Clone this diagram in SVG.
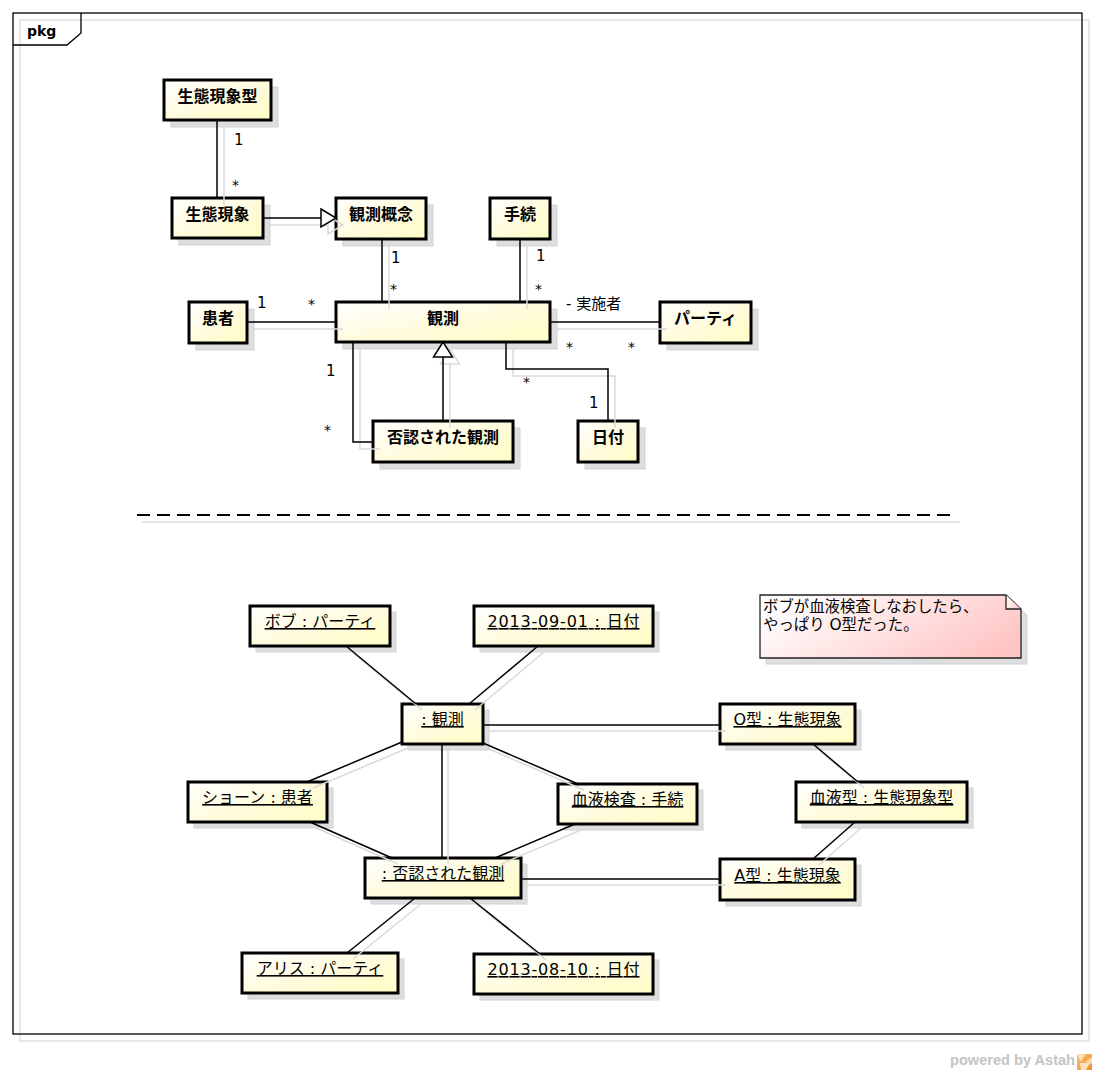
<svg xmlns="http://www.w3.org/2000/svg" width="1096" height="1074" viewBox="0 0 1096 1074">
<defs>
<linearGradient id="boxfill" x1="0" y1="0" x2="1" y2="1">
<stop offset="0" stop-color="#ffffff"/>
<stop offset="0.6" stop-color="#fffbd8"/>
<stop offset="1" stop-color="#ffffc4"/>
</linearGradient>
<linearGradient id="notefill" x1="0" y1="0.3" x2="1" y2="0.7">
<stop offset="0" stop-color="#ffffff"/>
<stop offset="1" stop-color="#ffc4c4"/>
</linearGradient>
<linearGradient id="logofill" x1="0" y1="0" x2="1" y2="1">
<stop offset="0" stop-color="#f7c27a"/>
<stop offset="1" stop-color="#f08a2c"/>
</linearGradient>
</defs>
<style>
.frame{fill:none;stroke:#000;stroke-width:1.3}
.frameshadow{fill:none;stroke:#dcdcdc;stroke-width:1.3}
.sh{fill:#dedede;stroke:#d2d2d2;stroke-width:1}
.box{fill:url(#boxfill);stroke:#000;stroke-width:3}
.note{fill:url(#notefill);stroke:#222;stroke-width:1.3}
.ln{fill:none;stroke:#000;stroke-width:1.5}
.lsh{fill:none;stroke:#dadada;stroke-width:1.5}
.tri{fill:#fff;stroke:#000;stroke-width:1.5}
.trish{fill:none;stroke:#dadada;stroke-width:1.5}
.cls{font-family:"DejaVu Sans","Noto Sans CJK JP",sans-serif;font-size:16px;font-weight:bold;text-anchor:middle;fill:#000}
.obj{font-family:"DejaVu Sans","Noto Sans CJK JP",sans-serif;font-size:16px;text-anchor:middle;fill:#000;text-decoration:underline}
.lbl{font-family:"DejaVu Sans","Noto Sans CJK JP",sans-serif;font-size:15px;fill:#000}
.star{font-family:"DejaVu Sans",sans-serif;font-size:14px;fill:#000}
.notetxt{font-family:"DejaVu Sans","Noto Sans CJK JP",sans-serif;font-size:15.4px;fill:#000}
</style>
<rect x="0" y="0" width="1096" height="1074" fill="#ffffff"/>

<g id="frame">
<rect class="frameshadow" x="20" y="20" width="1069" height="1021"/>
<rect class="frame" x="13" y="13" width="1069" height="1021"/>
<polyline class="frame" points="13,45 67,45 81,33 81,13"/>
<text x="27" y="36" font-family="DejaVu Sans, sans-serif" font-size="14" font-weight="bold">pkg</text>
</g>

<g id="separator">
<line x1="142" y1="522" x2="960" y2="522" stroke="#dcdcdc" stroke-width="1.5"/>
<line x1="137" y1="515" x2="950" y2="515" stroke="#000" stroke-width="2" stroke-dasharray="13,7"/>
</g>

<!-- class nodes -->
<g id="n-seitaigenshougata">
<rect class="sh" x="171" y="87" width="107" height="40"/>
<rect class="box" x="164" y="80" width="107" height="40"/>
<text class="cls" x="217.5" y="102">生態現象型</text>
</g>
<g id="n-seitaigenshou">
<rect class="sh" x="179" y="205" width="91" height="40"/>
<rect class="box" x="172" y="198" width="91" height="40"/>
<text class="cls" x="217.5" y="220">生態現象</text>
</g>
<g id="n-kansokugainen">
<rect class="sh" x="343" y="205" width="90" height="41"/>
<rect class="box" x="336" y="198" width="90" height="41"/>
<text class="cls" x="381" y="220">観測概念</text>
</g>
<g id="n-tetsuzuki">
<rect class="sh" x="497" y="205" width="60" height="41"/>
<rect class="box" x="490" y="198" width="60" height="41"/>
<text class="cls" x="520" y="220">手続</text>
</g>
<g id="n-kanja">
<rect class="sh" x="196" y="309" width="58" height="41"/>
<rect class="box" x="189" y="302" width="58" height="41"/>
<text class="cls" x="218" y="324">患者</text>
</g>
<g id="n-kansoku">
<rect class="sh" x="343" y="309" width="214" height="40"/>
<rect class="box" x="336" y="302" width="214" height="40"/>
<text class="cls" x="443" y="324">観測</text>
</g>
<g id="n-party">
<rect class="sh" x="667" y="309" width="91" height="41"/>
<rect class="box" x="660" y="302" width="91" height="41"/>
<text class="cls" x="705.5" y="324">パーティ</text>
</g>
<g id="n-hinin">
<rect class="sh" x="380" y="428" width="140" height="41"/>
<rect class="box" x="373" y="421" width="140" height="41"/>
<text class="cls" x="443" y="443">否認された観測</text>
</g>
<g id="n-hiduke">
<rect class="sh" x="585" y="428" width="60" height="41"/>
<rect class="box" x="578" y="421" width="60" height="41"/>
<text class="cls" x="608" y="443">日付</text>
</g>

<!-- object nodes -->
<g id="o-bob">
<rect class="sh" x="256" y="612" width="140" height="40"/>
<rect class="box" x="250" y="606" width="140" height="40"/>
<text class="obj" x="320" y="627">ボブ : パーティ</text>
</g>
<g id="o-date1">
<rect class="sh" x="480" y="612" width="179" height="40"/>
<rect class="box" x="474" y="606" width="179" height="40"/>
<text class="obj" x="563.5" y="627" textLength="152" lengthAdjust="spacing">2013-09-01 : 日付</text>
</g>
<g id="o-kansoku">
<rect class="sh" x="408" y="710" width="81" height="40"/>
<rect class="box" x="402" y="704" width="81" height="40"/>
<text class="obj" x="442.5" y="725">: 観測</text>
</g>
<g id="o-ogata">
<rect class="sh" x="726" y="710" width="135" height="40"/>
<rect class="box" x="720" y="704" width="135" height="40"/>
<text class="obj" x="787.5" y="725">O型 : 生態現象</text>
</g>
<g id="o-shaun">
<rect class="sh" x="194" y="788" width="139" height="40"/>
<rect class="box" x="188" y="782" width="139" height="40"/>
<text class="obj" x="257.5" y="803">ショーン : 患者</text>
</g>
<g id="o-ketsuekikensa">
<rect class="sh" x="564" y="790" width="139" height="40"/>
<rect class="box" x="558" y="784" width="139" height="40"/>
<text class="obj" x="627.5" y="805">血液検査 : 手続</text>
</g>
<g id="o-ketsuekigata">
<rect class="sh" x="802" y="788" width="171" height="40"/>
<rect class="box" x="796" y="782" width="171" height="40"/>
<text class="obj" x="881.5" y="803">血液型 : 生態現象型</text>
</g>
<g id="o-hinin">
<rect class="sh" x="371" y="864" width="156" height="40"/>
<rect class="box" x="365" y="858" width="156" height="40"/>
<text class="obj" x="443" y="879">: 否認された観測</text>
</g>
<g id="o-agata">
<rect class="sh" x="726" y="865" width="135" height="41"/>
<rect class="box" x="720" y="859" width="135" height="41"/>
<text class="obj" x="787.5" y="881">A型 : 生態現象</text>
</g>
<g id="o-alice">
<rect class="sh" x="248" y="959" width="156" height="40"/>
<rect class="box" x="242" y="953" width="156" height="40"/>
<text class="obj" x="320" y="974">アリス : パーティ</text>
</g>
<g id="o-date2">
<rect class="sh" x="480" y="960" width="179" height="40"/>
<rect class="box" x="474" y="954" width="179" height="40"/>
<text class="obj" x="563.5" y="975" textLength="152" lengthAdjust="spacing">2013-08-10 : 日付</text>
</g>

<!-- note -->
<g id="note">
<polygon class="sh" points="766,601 1012,601 1027,615 1027,664 766,664"/>
<polygon class="note" points="760,595 1006,595 1021,609 1021,658 760,658"/>
<polyline class="note" points="1006,595 1006,609 1021,609" fill="none"/>
<text class="notetxt" x="763" y="612">ボブが血液検査しなおしたら、</text>
<text class="notetxt" x="763" y="630">やっぱり O型だった。</text>
</g>

<!-- connectors -->
<g id="connectors">
<g id="conn-shadows">
<g transform="translate(7,7)">
<line class="lsh" x1="217" y1="120" x2="217" y2="198"/>
<line class="lsh" x1="263" y1="218" x2="321" y2="218"/>
<polygon class="trish" points="321,209 336,218 321,227"/>
<line class="lsh" x1="382" y1="239" x2="382" y2="302"/>
<line class="lsh" x1="520" y1="239" x2="520" y2="302"/>
<line class="lsh" x1="247" y1="322" x2="336" y2="322"/>
<line class="lsh" x1="550" y1="322" x2="660" y2="322"/>
<polyline class="lsh" points="353,342 353,442 373,442"/>
<line class="lsh" x1="443" y1="357" x2="443" y2="421"/>
<polygon class="trish" points="443,342 433.5,357 452.5,357"/>
<polyline class="lsh" points="506,342 506,369 608,369 608,421"/>
</g>
<g transform="translate(6,6)">
<line class="lsh" x1="346" y1="646" x2="416" y2="704"/>
<line class="lsh" x1="538" y1="646" x2="469" y2="704"/>
<line class="lsh" x1="483" y1="725" x2="720" y2="725"/>
<line class="lsh" x1="402" y1="742" x2="307" y2="782"/>
<line class="lsh" x1="483" y1="743" x2="578" y2="784"/>
<line class="lsh" x1="442" y1="744" x2="442" y2="858"/>
<line class="lsh" x1="310" y1="822" x2="392" y2="858"/>
<line class="lsh" x1="575" y1="824" x2="495" y2="858"/>
<line class="lsh" x1="521" y1="879" x2="720" y2="879"/>
<line class="lsh" x1="415" y1="898" x2="347" y2="953"/>
<line class="lsh" x1="470" y1="898" x2="540" y2="954"/>
<line class="lsh" x1="813" y1="744" x2="858" y2="782"/>
<line class="lsh" x1="855" y1="822" x2="813" y2="859"/>
</g>
</g>
<g id="conn-lines">
<line id="c-gata-genshou" class="ln" x1="217" y1="120" x2="217" y2="198"/>
<g id="c-gen-genshou-gainen">
<line class="ln" x1="263" y1="218" x2="321" y2="218"/>
<polygon class="tri" points="321,209 336,218 321,227"/>
</g>
<line id="c-gainen-kansoku" class="ln" x1="382" y1="239" x2="382" y2="302"/>
<line id="c-tetsuzuki-kansoku" class="ln" x1="520" y1="239" x2="520" y2="302"/>
<line id="c-kanja-kansoku" class="ln" x1="247" y1="322" x2="336" y2="322"/>
<line id="c-kansoku-party" class="ln" x1="550" y1="322" x2="660" y2="322"/>
<polyline id="c-kansoku-hinin" class="ln" points="353,342 353,442 373,442"/>
<g id="c-gen-hinin-kansoku">
<line class="ln" x1="443" y1="357" x2="443" y2="421"/>
<polygon class="tri" points="443,342 433.5,357 452.5,357"/>
</g>
<polyline id="c-kansoku-hiduke" class="ln" points="506,342 506,369 608,369 608,421"/>

<line class="ln" x1="346" y1="646" x2="416" y2="704"/>
<line class="ln" x1="538" y1="646" x2="469" y2="704"/>
<line class="ln" x1="483" y1="725" x2="720" y2="725"/>
<line class="ln" x1="402" y1="742" x2="307" y2="782"/>
<line class="ln" x1="483" y1="743" x2="578" y2="784"/>
<line class="ln" x1="442" y1="744" x2="442" y2="858"/>
<line class="ln" x1="310" y1="822" x2="392" y2="858"/>
<line class="ln" x1="575" y1="824" x2="495" y2="858"/>
<line class="ln" x1="521" y1="879" x2="720" y2="879"/>
<line class="ln" x1="415" y1="898" x2="347" y2="953"/>
<line class="ln" x1="470" y1="898" x2="540" y2="954"/>
<line class="ln" x1="813" y1="744" x2="858" y2="782"/>
<line class="ln" x1="855" y1="822" x2="813" y2="859"/>
</g>
<g id="conn-labels">
<text class="lbl" x="234" y="145">1</text>
<text class="star" x="232" y="190">*</text>
<text class="lbl" x="391" y="263">1</text>
<text class="star" x="390" y="294">*</text>
<text class="lbl" x="536" y="261">1</text>
<text class="star" x="535" y="294">*</text>
<text class="lbl" x="257" y="308">1</text>
<text class="star" x="308" y="309">*</text>
<text class="lbl" x="566" y="309" font-size="16">- 実施者</text>
<text class="star" x="566" y="352">*</text>
<text class="star" x="628" y="352">*</text>
<text class="lbl" x="326" y="376">1</text>
<text class="star" x="324" y="435">*</text>
<text class="star" x="523" y="387">*</text>
<text class="lbl" x="589" y="408">1</text>
</g>
</g>

<g id="powered">
<text x="950" y="1065" font-family="Liberation Sans, Arial, sans-serif" font-size="14.5" font-weight="bold" fill="#c4c4c4" textLength="125" lengthAdjust="spacingAndGlyphs">powered by Astah</text>
<rect x="1077" y="1054" width="15" height="16" fill="url(#logofill)"/>
<polygon points="1077,1054 1085,1054 1081,1062" fill="#fbe0b0"/>
<polygon points="1092,1057 1092,1064 1085,1062" fill="#fbd9a0"/>
<polygon points="1080,1063 1090,1063 1086,1070 1081,1070" fill="#fff3e0" opacity="0.8"/>
</g>
</svg>
